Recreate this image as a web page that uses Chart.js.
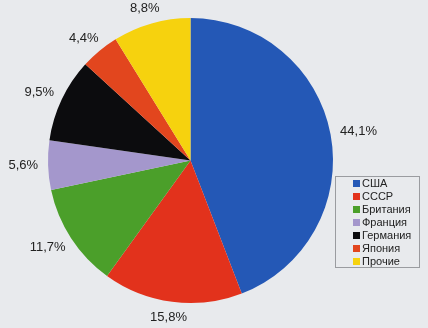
<!DOCTYPE html>
<html>
<head>
<meta charset="utf-8">
<script src="https://cdn.jsdelivr.net/npm/chart.js@4"></script>
<style>
  html, body { margin: 0; padding: 0; background: #e8eaed; }
  #wrap { width: 428px; height: 328px; }
</style>
</head>
<body>
<div id="wrap"><canvas id="grafico" width="428" height="328"></canvas></div>
<script>
const paises = ['США', 'СССР', 'Британия', 'Франция', 'Германия', 'Япония', 'Прочие'];
const porcentajes = [44.1, 15.8, 11.7, 5.6, 9.5, 4.4, 8.8];
const etiquetas = ['44,1%', '15,8%', '11,7%', '5,6%', '9,5%', '4,4%', '8,8%'];
const colores = ['#2458b6', '#e2321c', '#4b9f2a', '#a497cc', '#0c0c0e', '#e2461e', '#f6d20e'];

// etiquetas fuera del pastel, ancladas al arco
const etiquetasFuera = {
  id: 'etiquetasFuera',
  afterDatasetsDraw(chart) {
    const ctx = chart.ctx;
    const arcos = chart.getDatasetMeta(0).data;
    ctx.save();
    ctx.font = '13px "Liberation Sans", Arial, sans-serif';
    ctx.fillStyle = '#222';
    ctx.textAlign = 'center';
    ctx.textBaseline = 'middle';
    arcos.forEach((arco, i) => {
      const medio = (arco.startAngle + arco.endAngle) / 2;
      const r = arco.outerRadius + 9;
      const ancho = ctx.measureText(etiquetas[i]).width;
      const x = arco.x + Math.cos(medio) * r + Math.cos(medio) * (ancho / 2 + 1);
      const y = arco.y + Math.sin(medio) * r + Math.sin(medio) * 7;
      ctx.fillText(etiquetas[i], x, y);
    });
    ctx.restore();
  }
};

// leyenda con recuadro a la derecha
const leyendaCaja = {
  id: 'leyendaCaja',
  afterDraw(chart) {
    const ctx = chart.ctx;
    ctx.save();
    ctx.strokeStyle = '#9a9ca0';
    ctx.lineWidth = 1;
    ctx.strokeRect(335.5, 176.5, 84, 91);
    ctx.font = '11px "Liberation Sans", Arial, sans-serif';
    ctx.textBaseline = 'middle';
    ctx.textAlign = 'left';
    paises.forEach((p, i) => {
      const y = 183 + i * 13;
      ctx.fillStyle = colores[i];
      ctx.fillRect(353, y - 3, 7, 7);
      ctx.fillStyle = '#222';
      ctx.fillText(p, 362, y + 1);
    });
    ctx.restore();
  }
};

new Chart(document.getElementById('grafico').getContext('2d'), {
  type: 'pie',
  data: {
    labels: paises,
    datasets: [{
      data: porcentajes,
      backgroundColor: colores,
      borderWidth: 0
    }]
  },
  options: {
    responsive: false,
    animation: false,
    layout: { padding: { left: 48, right: 95, top: 18, bottom: 25 } },
    plugins: {
      legend: { display: false },
      tooltip: { enabled: false }
    }
  },
  plugins: [etiquetasFuera, leyendaCaja]
});
</script>
</body>
</html>
